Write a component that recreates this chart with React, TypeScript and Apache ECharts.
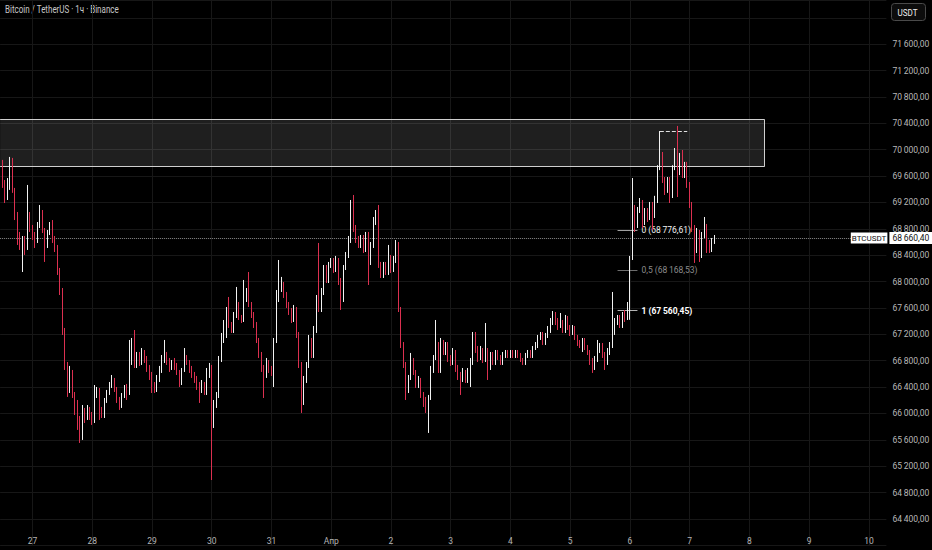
import React, { useEffect, useRef } from 'react';
import * as echarts from 'echarts';

const FONT = "Roboto, 'Liberation Sans', sans-serif";
const TITLE = 'Bitcoin / TetherUS · 1ч · Binance';
const QUOTE = 'USDT';
const SYMBOL = 'BTCUSDT';

// x axis: hourly categories, first candle 26 Mar 11:00
const START_UTC = Date.UTC(2024, 2, 26, 11);
const AXIS_HOURS = 357;
const FIRST_MIDNIGHT_INDEX = 13;
const X_TICK_LABELS = ['27', '28', '29', '30', '31', 'Апр', '2', '3', '4', '5', '6', '7', '8', '9', '10'];

// y axis
const Y_MIN = 64000;
const Y_MAX = 72270;
const Y_STEP = 400;
const Y_LABEL_MAX = 71600;

// hourly candles [open, close, low, high]
const MAR26 = [
  [69995, 69765, 69690, 70070], [69765, 69495, 69420, 69845], [69495, 69313, 69191, 69540], [69313, 69465, 69237, 69570],
  [69465, 69845, 69390, 69890], [69845, 69390, 69345, 69875], [69390, 69010, 68933, 69420], [69010, 68706, 68555, 69055],
  [68706, 68555, 68479, 68752], [68479, 68630, 68145, 68691], [68630, 68555, 68403, 68691], [68555, 68964, 68479, 69465],
  [68964, 68812, 68752, 69055],
];
const MAR27 = [
  [68812, 68706, 68630, 68858], [68706, 68630, 68509, 68752], [68630, 68858, 68585, 68903], [68858, 69055, 68812, 69161],
  [69055, 68782, 68736, 69085], [68782, 68555, 68297, 68812], [68555, 68752, 68509, 68782], [68752, 68843, 68706, 68903],
  [68843, 68630, 68585, 68933], [68630, 68509, 68448, 68691], [68509, 68175, 68100, 68555], [68175, 67872, 67796, 68206],
  [67872, 67265, 67190, 67902], [67265, 66735, 66659, 67296], [66735, 66356, 66250, 66780], [66356, 66629, 66310, 66720],
  [66629, 66280, 66234, 66659], [66280, 66128, 65976, 66325], [66128, 65901, 65750, 66204], [65901, 65628, 65552, 65961],
  [65628, 66022, 65598, 66128], [66022, 65931, 65855, 66083], [65931, 66053, 65901, 66128], [66053, 65961, 65901, 66098],
];
const MAR28 = [
  [65961, 65901, 65825, 66022], [65901, 66280, 65855, 66431], [66280, 66356, 66234, 66401], [66356, 66053, 65901, 66386],
  [66053, 65976, 65931, 66098], [65976, 66204, 65931, 66234], [66204, 66310, 66159, 66356], [66310, 66431, 66280, 66477],
  [66431, 66507, 66386, 66583], [66507, 66356, 66325, 66538], [66356, 66204, 66159, 66401], [66204, 66128, 66053, 66250],
  [66128, 66280, 66083, 66310], [66280, 66386, 66234, 66431], [66386, 66325, 66204, 66447], [66325, 66780, 66280, 67114],
  [66780, 66962, 66735, 67144], [66962, 66735, 66689, 67265], [66735, 66886, 66689, 66932], [66886, 66780, 66720, 66932],
  [66780, 66932, 66735, 66992], [66932, 66810, 66765, 66962], [66810, 66689, 66629, 66871], [66689, 66583, 66507, 66735],
];
const MAR29 = [
  [66583, 66431, 66310, 66629], [66431, 66356, 66310, 66477], [66356, 66538, 66325, 66583], [66538, 66659, 66477, 66720],
  [66659, 66810, 66614, 66886], [66810, 66886, 66765, 67114], [66886, 66780, 66735, 66932], [66780, 66689, 66629, 66841],
  [66689, 66780, 66659, 66810], [66780, 66720, 66659, 66841], [66720, 66629, 66583, 66765], [66629, 66477, 66401, 66659],
  [66477, 66659, 66431, 66689], [66659, 66841, 66629, 66992], [66841, 66780, 66735, 66886], [66780, 66659, 66614, 66810],
  [66659, 66583, 66538, 66720], [66583, 66507, 66462, 66629], [66507, 66431, 66356, 66568], [66431, 66356, 66159, 66477],
  [66356, 66447, 66310, 66507], [66447, 66325, 66280, 66477], [66325, 66583, 66280, 66689], [66583, 66689, 66538, 66765],
];
const MAR30 = [
  [66689, 65855, 64990, 66735], [65855, 66128, 65779, 66204], [66128, 66280, 66083, 66325], [66280, 66810, 66234, 66871],
  [66810, 67114, 66780, 67220], [67114, 67190, 67068, 67417], [67190, 67569, 67144, 67614], [67569, 67341, 67296, 67766],
  [67341, 67265, 67220, 67387], [67265, 67493, 67220, 67538], [67493, 67645, 67447, 67918], [67645, 67447, 67417, 67690],
  [67447, 67417, 67371, 67493], [67417, 67751, 67387, 68024], [67751, 67842, 67690, 67902], [67842, 67645, 67614, 68145],
  [67645, 67493, 67447, 67690], [67493, 67341, 67296, 67538], [67341, 67114, 67068, 67387], [67114, 66886, 66841, 67144],
  [66886, 66689, 66629, 66932], [66689, 66583, 66234, 66735], [66583, 66780, 66538, 66841], [66780, 66659, 66614, 66810],
];
const MAR31 = [
  [66659, 66629, 66568, 66720], [66629, 67114, 66401, 67144], [67114, 67720, 67068, 67872], [67720, 67902, 67690, 68327],
  [67902, 67948, 67842, 68070], [67948, 67796, 67751, 67994], [67796, 67645, 67599, 67842], [67645, 67538, 67493, 67690],
  [67538, 67417, 67371, 67599], [67417, 67569, 67387, 67645], [67569, 67190, 67144, 67614], [67190, 66735, 66689, 67235],
  [66735, 66204, 66007, 66780], [66204, 66507, 66128, 66568], [66507, 66735, 66462, 66780], [66735, 67114, 66689, 67190],
  [67114, 66886, 66841, 67144], [66886, 67265, 66841, 67326], [67265, 67720, 67220, 67796], [67720, 67599, 67538, 68585],
  [67599, 67842, 67538, 67902], [67842, 68206, 67796, 68251], [68206, 68024, 67978, 68251], [68024, 68251, 67978, 68297],
];
const APR01 = [
  [68251, 68297, 68206, 68357], [68297, 68175, 68130, 68357], [68175, 68327, 68145, 68388], [68327, 67994, 67948, 68357],
  [67994, 67720, 67569, 68054], [67720, 68206, 67690, 68251], [68206, 68403, 68175, 68448], [68403, 68630, 68357, 68691],
  [68630, 69085, 68585, 69237], [69085, 68812, 68752, 69313], [68812, 68630, 68585, 68858], [68630, 68555, 68509, 68691],
  [68555, 68660, 68509, 68706], [68660, 68479, 68433, 68706], [68479, 68706, 68448, 68752], [68706, 68297, 67948, 68752],
  [68297, 68555, 68251, 68600], [68555, 68903, 68509, 68979], [68903, 69010, 68858, 69085], [69010, 68251, 68206, 69161],
  [68251, 68100, 68054, 68297], [68100, 68251, 68054, 68297], [68251, 68145, 68100, 68297], [68145, 68357, 68100, 68555],
];
const APR02 = [
  [68357, 68175, 68130, 68403], [68175, 68327, 68145, 68388], [68327, 68555, 68282, 68630], [68555, 67569, 67538, 68600],
  [67569, 67038, 66992, 67614], [67038, 66735, 66689, 67083], [66735, 66356, 66204, 66780], [66356, 66538, 66310, 66583],
  [66538, 66810, 66507, 66917], [66810, 66629, 66583, 66841], [66629, 66431, 66386, 66659], [66431, 66507, 66386, 66568],
  [66507, 66280, 66234, 66538], [66280, 66204, 66098, 66325], [66204, 66083, 66007, 66250], [66083, 66234, 65704, 66280],
  [66234, 66659, 66204, 66720], [66659, 66841, 66614, 66886], [66841, 67038, 66810, 67417], [67038, 66659, 66614, 67083],
  [66659, 67083, 66614, 67144], [67083, 66932, 66886, 67114], [66932, 67038, 66886, 67083], [67038, 66841, 66780, 67083],
];
const APR03 = [
  [66841, 66780, 66720, 66886], [66780, 66932, 66735, 66992], [66932, 66689, 66629, 66962], [66689, 66583, 66507, 66735],
  [66583, 66538, 66280, 66629], [66538, 66629, 66477, 66689], [66629, 66507, 66462, 66659], [66507, 66629, 66462, 66689],
  [66629, 66780, 66401, 66841], [66780, 67190, 66735, 67235], [67190, 66962, 66917, 67235], [66962, 66841, 66780, 67023],
  [66841, 66962, 66810, 67023], [66962, 66810, 66765, 66992], [66810, 66932, 66780, 67371], [66932, 66689, 66507, 66992],
  [66689, 66886, 66659, 66932], [66886, 66780, 66735, 66932], [66780, 66932, 66735, 66962], [66932, 66841, 66810, 66962],
  [66841, 66780, 66735, 66886], [66780, 66886, 66735, 66932], [66886, 66932, 66841, 66962], [66932, 66871, 66841, 66962],
];
const APR04 = [
  [66871, 66932, 66841, 66962], [66932, 66886, 66841, 66962], [66886, 66917, 66841, 66962], [66917, 66871, 66841, 66962],
  [66871, 66810, 66780, 66917], [66810, 66780, 66735, 66841], [66780, 66871, 66735, 66917], [66871, 66932, 66841, 66962],
  [66932, 66886, 66841, 66962], [66886, 66992, 66841, 67023], [66992, 67038, 66962, 67083], [67038, 67144, 66992, 67190],
  [67144, 67190, 67114, 67235], [67190, 67083, 67038, 67235], [67083, 67174, 67038, 67220], [67174, 67265, 67144, 67326],
  [67265, 67387, 67220, 67447], [67387, 67493, 67341, 67553], [67493, 67387, 67341, 67538], [67387, 67326, 67265, 67447],
  [67326, 67387, 67296, 67523], [67387, 67265, 67220, 67417], [67265, 67417, 67220, 67493], [67417, 67296, 67265, 67478],
];
const APR05 = [
  [67296, 67220, 67174, 67341], [67220, 67296, 67190, 67341], [67296, 67144, 67114, 67326], [67144, 67068, 67023, 67190],
  [67068, 67038, 66992, 67114], [67038, 67114, 66932, 67144], [67114, 66992, 66962, 67144], [66992, 66932, 66886, 67038],
  [66932, 66780, 66735, 66962], [66780, 66689, 66614, 66841], [66689, 66810, 66659, 66871], [66810, 66962, 66780, 67114],
  [66962, 67023, 66917, 67068], [67023, 66886, 66841, 67068], [66886, 66780, 66659, 66932], [66780, 66932, 66735, 66992],
  [66932, 67038, 66886, 67083], [67038, 67265, 66992, 67842], [67265, 67387, 67190, 67447], [67387, 67447, 67341, 67493],
  [67447, 67341, 67296, 67493], [67341, 67493, 67296, 67538], [67493, 67447, 67387, 67569], [67447, 67560, 67417, 67690],
];
const APR06 = [
  [67560, 68357, 67420, 68388], [68357, 69131, 68327, 69570], [69131, 68858, 68752, 69161], [68858, 69085, 68812, 69131],
  [69085, 69191, 69040, 69267], [69191, 68903, 68812, 69237], [68903, 69055, 68858, 69115], [69055, 68964, 68903, 69115],
  [68964, 69161, 68933, 69207], [69161, 69010, 68782, 69207], [69010, 69237, 68964, 69300], [69237, 69720, 69191, 69765],
  [69720, 69920, 69690, 70283], [69920, 69540, 69495, 69965], [69540, 69390, 69313, 69585], [69390, 69540, 69345, 69585],
  [69540, 69313, 69191, 69585], [69313, 69720, 69267, 69765], [69720, 69965, 69690, 70025], [69965, 69660, 69282, 70360],
  [69660, 69890, 69615, 69950], [69890, 69615, 69570, 69995], [69615, 69765, 69570, 69815], [69765, 69465, 69420, 69815],
];
const APR07 = [
  [69465, 69161, 69115, 69510], [69161, 68812, 68752, 69207], [68812, 68479, 68282, 68858], [68479, 68752, 68433, 68812],
  [68752, 68403, 68297, 68782], [68403, 68706, 68357, 68752], [68706, 68843, 68660, 68979], [68843, 68555, 68433, 68873],
  [68555, 68479, 68433, 68630], [68479, 68600, 68448, 68660], [68600, 68660.4, 68570, 68706],
];

const LAST_PRICE = 68660.4;

// supply zone
const ZONE_START = '03-26 11:00';
const ZONE_END = '04-08 06:00';
const ZONE_TOP = 70460;
const ZONE_BOTTOM = 69742;

// fibonacci levels
const FIB_START = '04-05 19:00';
const FIB_END = '04-06 03:00';
const FIB_RATIOS = ['0', '0,5', '1'];
const FIB_PRICES = [68776.61, 68168.53, 67560.45];
const FIB_TEXT_COLORS = ['#f2f2f2', '#8c8c8c', '#ffffff'];
const FIB_LINE_COLORS = ['#a0a0a0', '#6e6e6e', '#b4b4b4'];

// dashed high marker
const HIGH_START = '04-06 12:00';
const HIGH_END = '04-06 23:00';
const HIGH_PRICE = 70283;

const pad = (n: number) => (n < 10 ? '0' + n : '' + n);
const CATEGORIES: string[] = [];
for (let i = 0; i < AXIS_HOURS; i++) {
  const d = new Date(START_UTC + i * 3600000);
  CATEGORIES.push(`${pad(d.getUTCMonth() + 1)}-${pad(d.getUTCDate())} ${pad(d.getUTCHours())}:00`);
}

const CANDLES = [
  ...MAR26, ...MAR27, ...MAR28, ...MAR29, ...MAR30, ...MAR31,
  ...APR01, ...APR02, ...APR03, ...APR04, ...APR05, ...APR06, ...APR07,
];

const SEP = '\u2009';
function fmtPrice(v: number): string {
  const fixed = v.toFixed(2);
  const [ip, dp] = fixed.split('.');
  const grouped = ip.replace(/\B(?=(\d{3})+(?!\d))/g, SEP);
  return `${grouped},${dp}`;
}

const isMidnight = (index: number) => index >= FIRST_MIDNIGHT_INDEX && (index - FIRST_MIDNIGHT_INDEX) % 24 === 0;

export default function App() {
  const ref = useRef<HTMLDivElement>(null);

  useEffect(() => {
    if (!ref.current) return;
    const chart = echarts.init(ref.current, undefined, { renderer: 'svg' });

    const fibLines = FIB_RATIOS.map((r, i) => [
      {
        coord: [FIB_START, FIB_PRICES[i]],
        lineStyle: { color: FIB_LINE_COLORS[i], width: 1, type: 'solid' },
        label: {
          show: true,
          position: 'end',
          distance: 4,
          formatter: `${r} (${fmtPrice(FIB_PRICES[i])})`,
          color: FIB_TEXT_COLORS[i],
          fontSize: 8.5,
          fontWeight: r === '1' ? 'bold' : 'normal',
          fontFamily: FONT,
        },
      },
      { coord: [FIB_END, FIB_PRICES[i]] },
    ]);

    const zoneLine = { color: '#cfcfcf', width: 1, type: 'solid' };

    chart.setOption({
      animation: false,
      backgroundColor: '#000000',
      textStyle: { fontFamily: FONT },
      grid: { left: 0.135, right: 45.6, top: 0, bottom: 4.7, outerBoundsMode: 'none', containLabel: false },
      xAxis: {
        type: 'category',
        data: CATEGORIES,
        boundaryGap: false,
        offset: -13.3,
        axisLine: { show: false, onZero: false },
        axisTick: { show: false },
        axisLabel: {
          interval: (index: number) => isMidnight(index),
          formatter: (_v: string, index: number) =>
            isMidnight(index) ? X_TICK_LABELS[(index - FIRST_MIDNIGHT_INDEX) / 24] || '' : '',
          color: '#b4b4b4',
          fontSize: 8.5,
          margin: 4,
          fontFamily: FONT,
        },
        splitLine: {
          show: true,
          interval: (index: number) => isMidnight(index),
          lineStyle: { color: '#171717', width: 1 },
        },
      },
      yAxis: {
        type: 'value',
        position: 'right',
        min: Y_MIN,
        max: Y_MAX,
        interval: Y_STEP,
        axisLine: { show: false },
        axisTick: { show: false },
        splitLine: { lineStyle: { color: '#171717', width: 1 } },
        axisLabel: {
          showMinLabel: false,
          showMaxLabel: false,
          color: '#b8b8b8',
          fontSize: 8.5,
          margin: 6,
          fontFamily: FONT,
          formatter: (v: number) => (v > Y_LABEL_MAX ? '' : fmtPrice(v)),
        },
      },
      graphic: [
        {
          type: 'text',
          x: 5,
          y: 5,
          scaleX: 0.8,
          style: { text: TITLE, fill: '#c8c8c8', fontSize: 10, fontFamily: FONT },
        },
        {
          type: 'group',
          right: 6,
          top: 3,
          children: [
            {
              type: 'rect',
              shape: { x: 0, y: 0, width: 34, height: 17, r: 3 },
              style: { fill: '#0c0c0c', stroke: '#4a4a4a', lineWidth: 1 },
            },
            {
              type: 'text',
              x: 6,
              y: 4,
              scaleX: 0.85,
              style: { text: QUOTE, fill: '#ececec', fontSize: 9.5, fontFamily: FONT },
            },
          ],
        },
      ],
      series: [
        {
          type: 'candlestick',
          data: CANDLES,
          barWidth: 1.2,
          z: 3,
          itemStyle: {
            color: '#f2f2f2',
            color0: '#dc3050',
            borderColor: '#f2f2f2',
            borderColor0: '#dc3050',
            borderWidth: 1,
          },
          markArea: {
            silent: true,
            z: 1,
            itemStyle: { color: 'rgba(255,255,255,0.12)', borderWidth: 0 },
            data: [[{ xAxis: ZONE_START, yAxis: ZONE_TOP }, { xAxis: ZONE_END, yAxis: ZONE_BOTTOM }]],
          },
          markLine: {
            silent: true,
            z: 2,
            symbol: ['none', 'none'],
            label: { show: false },
            data: [
              {
                yAxis: LAST_PRICE,
                lineStyle: { color: '#8a8a8a', type: 'dotted', width: 1 },
                label: {
                  show: true,
                  position: 'end',
                  distance: 3,
                  formatter: fmtPrice(LAST_PRICE),
                  backgroundColor: '#ffffff',
                  color: '#111111',
                  padding: [2, 3, 1, 3],
                  fontSize: 8.5,
                  fontFamily: FONT,
                },
              },
              {
                yAxis: LAST_PRICE,
                lineStyle: { color: 'rgba(0,0,0,0)', width: 1 },
                label: {
                  show: true,
                  position: 'insideEnd',
                  distance: -1,
                  formatter: SYMBOL,
                  backgroundColor: '#ffffff',
                  color: '#111111',
                  padding: [2, 1, 1, 1],
                  fontSize: 8,
                  fontFamily: FONT,
                },
              },
              [{ coord: [ZONE_START, ZONE_TOP], lineStyle: zoneLine }, { coord: [ZONE_END, ZONE_TOP] }],
              [{ coord: [ZONE_START, ZONE_BOTTOM], lineStyle: zoneLine }, { coord: [ZONE_END, ZONE_BOTTOM] }],
              [{ coord: [ZONE_END, ZONE_TOP], lineStyle: zoneLine }, { coord: [ZONE_END, ZONE_BOTTOM] }],
              [
                { coord: [HIGH_START, HIGH_PRICE], lineStyle: { color: '#e0e0e0', width: 1, type: 'dashed' } },
                { coord: [HIGH_END, HIGH_PRICE] },
              ],
              ...fibLines,
            ],
          },
        },
      ],
    });

    return () => chart.dispose();
  }, []);

  return (
    <div
      ref={ref}
      style={{ position: 'fixed', left: 0, top: 0, width: 932, height: 550, background: '#000' }}
    />
  );
}
